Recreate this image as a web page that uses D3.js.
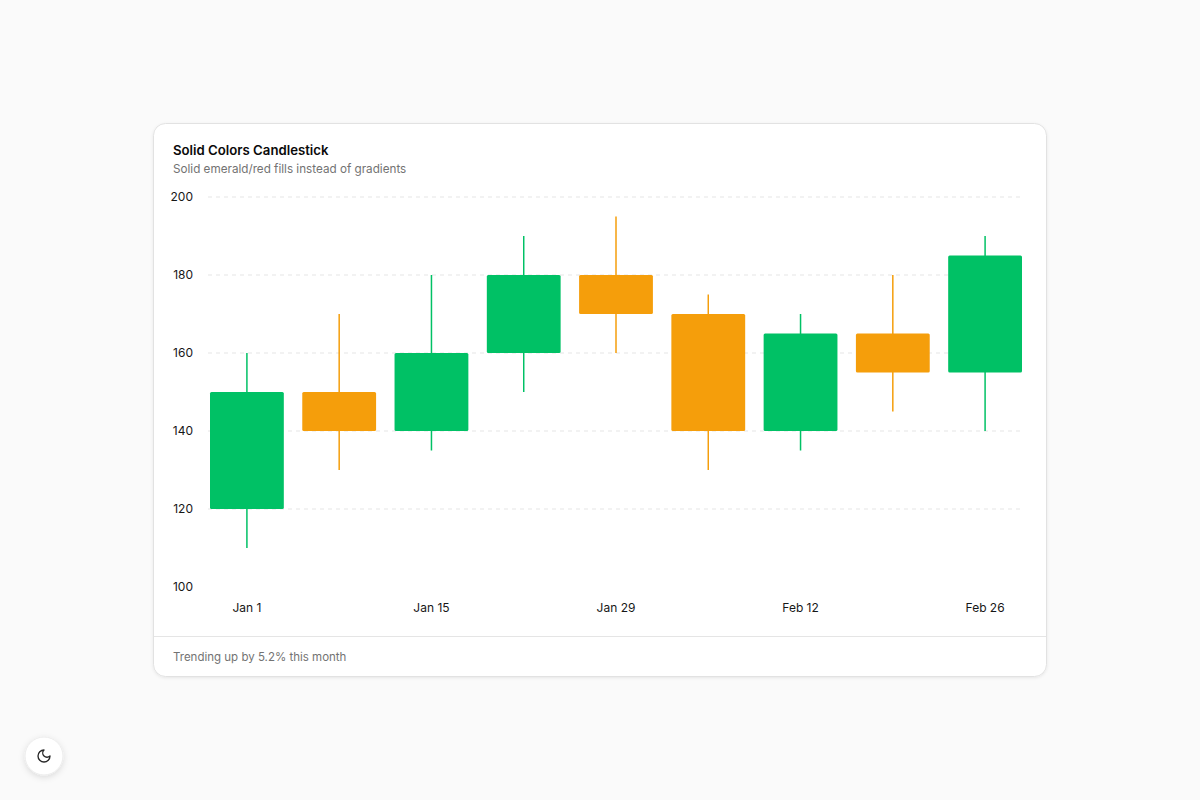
<!DOCTYPE html>
<html><head><meta charset="utf-8">
<script src="https://cdn.jsdelivr.net/npm/d3@7"></script>
<style>
html,body{margin:0;padding:0;background:#fafafa;}
svg{display:block;font-family:Inter,"Noto Sans",sans-serif;}
</style></head>
<body>
<svg id="c" width="1200" height="800"></svg>
<script>
const dates = ["Jan 1","Jan 8","Jan 15","Jan 22","Jan 29","Feb 5","Feb 12","Feb 19","Feb 26"];
const opens  = [120,150,140,160,180,170,140,165,155];
const closes = [150,140,160,180,170,140,165,155,185];
const highs  = [160,170,180,190,195,175,170,180,190];
const lows   = [110,130,135,150,160,130,135,145,140];
const yTicks = [100,120,140,160,180,200];
const xTickLabels = ["Jan 1","Jan 15","Jan 29","Feb 12","Feb 26"];

const data = dates.map((d,i)=>({d,o:opens[i],c:closes[i],h:highs[i],l:lows[i]}));
const UP="#00c165", DOWN="#f59e0b";

const svg = d3.select("#c");
const defs = svg.append("defs");
const f = defs.append("filter").attr("id","sh").attr("x","-10%").attr("y","-10%").attr("width","120%").attr("height","130%");
f.append("feDropShadow").attr("dx",0).attr("dy",1).attr("stdDeviation",1.5).attr("flood-color","#000").attr("flood-opacity",0.08);
const f2 = defs.append("filter").attr("id","sh2").attr("x","-50%").attr("y","-50%").attr("width","200%").attr("height","200%");
f2.append("feDropShadow").attr("dx",0).attr("dy",2).attr("stdDeviation",3).attr("flood-color","#000").attr("flood-opacity",0.12);

// card
svg.append("rect").attr("x",153.5).attr("y",123.5).attr("width",893).attr("height",553).attr("rx",12)
  .attr("fill","#fff").attr("stroke","#e2e2e2").attr("filter","url(#sh)");
svg.append("text").attr("x",173).attr("y",155).attr("font-size",13.2).attr("font-weight",600).attr("fill","#0a0a0a").text("Solid Colors Candlestick");
svg.append("text").attr("x",173).attr("y",173).attr("font-size",11.7).attr("fill","#737373").text("Solid emerald/red fills instead of gradients");
svg.append("line").attr("x1",154).attr("x2",1046).attr("y1",636.5).attr("y2",636.5).attr("stroke","#e5e5e5");
svg.append("text").attr("x",173).attr("y",661).attr("font-size",11.5).attr("fill","#737373").text("Trending up by 5.2% this month");

const x = d3.scaleBand().domain(dates).range([210,1022]).paddingInner(0.2).paddingOuter(0);
const y = d3.scaleLinear().domain([100,200]).range([587,197]);

const g = svg.append("g");
// grid
g.selectAll(".grid").data(yTicks.filter(t=>t>100)).join("line")
  .attr("x1",208).attr("x2",1022).attr("y1",d=>y(d)).attr("y2",d=>y(d))
  .attr("stroke","#e5e5e5").attr("stroke-dasharray","4 4");

// y axis
const yAxis = d3.axisLeft(y).tickValues(yTicks).tickSize(0).tickPadding(0);
const ya = g.append("g").attr("transform","translate(193,0)").call(yAxis);
ya.select(".domain").remove();
ya.selectAll("text").attr("font-size",12).attr("fill","#171717").attr("font-family","Inter,sans-serif");

// x axis
const xAxis = d3.axisBottom(x).tickValues(xTickLabels).tickSize(0).tickPadding(0);
const xa = g.append("g").attr("transform","translate(0,603)").call(xAxis);
xa.select(".domain").remove();
xa.selectAll("text").attr("font-size",12).attr("fill","#171717").attr("font-family","Inter,sans-serif");

// candles
const cg = g.selectAll(".candle").data(data).join("g");
cg.append("line")
  .attr("x1",d=>x(d.d)+x.bandwidth()/2).attr("x2",d=>x(d.d)+x.bandwidth()/2)
  .attr("y1",d=>y(d.h)).attr("y2",d=>y(d.l))
  .attr("stroke",d=>d.c>=d.o?UP:DOWN).attr("stroke-width",1.5);
cg.append("rect")
  .attr("x",d=>x(d.d)).attr("width",x.bandwidth())
  .attr("y",d=>y(Math.max(d.o,d.c))).attr("height",d=>Math.abs(y(d.o)-y(d.c)))
  .attr("rx",1.5).attr("fill",d=>d.c>=d.o?UP:DOWN);

// theme button
const b = svg.append("g").attr("transform","translate(44,756)");
b.append("circle").attr("r",19).attr("fill","#fff").attr("stroke","#ececec").attr("filter","url(#sh2)");
b.append("path").attr("d","M12 3a6 6 0 0 0 9 9 9 9 0 1 1-9-9Z")
  .attr("transform","translate(-8,-8) scale(0.667)")
  .attr("fill","none").attr("stroke","#262626").attr("stroke-width",2).attr("stroke-linecap","round").attr("stroke-linejoin","round");
</script>
</body></html>
